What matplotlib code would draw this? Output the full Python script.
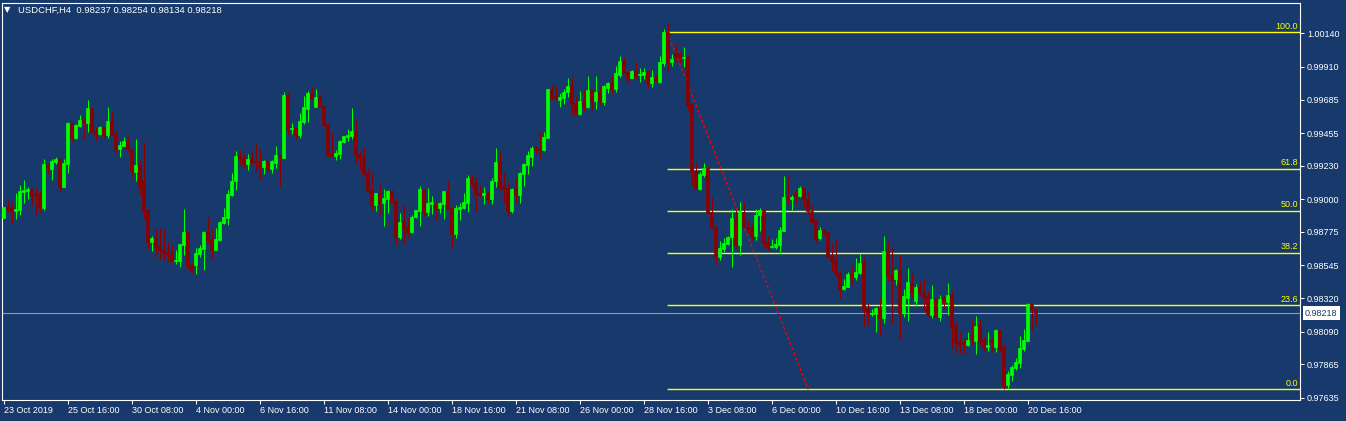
import numpy as np
import matplotlib.pyplot as plt
from matplotlib.transforms import ScaledTranslation, blended_transform_factory

plt.rcParams['font.family'] = ['Liberation Sans', 'DejaVu Sans']

# USDCHF H4 candles, oldest first
opens = [
    0.98873, 0.98948, 0.98942, 0.98919, 0.98926, 0.99052, 0.99056, 0.99070, 0.99036, 0.99038,
    0.98937, 0.99237, 0.99207, 0.99255, 0.99276, 0.99084, 0.99242, 0.99523, 0.99420, 0.99503,
    0.99544, 0.99523, 0.99626, 0.99468, 0.99448, 0.99496, 0.99441, 0.99537, 0.99448, 0.99345,
    0.99365, 0.99400, 0.99345, 0.99187, 0.99235, 0.99132, 0.98926, 0.98706, 0.98733, 0.98678,
    0.98651, 0.98637, 0.98630, 0.98575, 0.98575, 0.98685, 0.98774, 0.98548, 0.98548, 0.98623,
    0.98658, 0.98774, 0.98726, 0.98651, 0.98720, 0.98837, 0.98871, 0.99029, 0.99125, 0.99297,
    0.99283, 0.99242, 0.99276, 0.99263, 0.99256, 0.99221, 0.99263, 0.99208, 0.99249, 0.99304,
    0.99283, 0.99716, 0.99482, 0.99489, 0.99441, 0.99530, 0.99620, 0.99730, 0.99634, 0.99702,
    0.99640, 0.99517, 0.99311, 0.99297, 0.99311, 0.99393, 0.99427, 0.99434, 0.99469, 0.99311,
    0.99290, 0.99180, 0.99063, 0.98960, 0.99043, 0.98974, 0.99001, 0.99056, 0.98988, 0.98740,
    0.98843, 0.98809, 0.98775, 0.98878, 0.98919, 0.99070, 0.98912, 0.98967, 0.98960, 0.98940,
    0.98967, 0.99056, 0.98940, 0.98761, 0.98933, 0.98940, 0.98974, 0.99146, 0.99111, 0.99043,
    0.99029, 0.99043, 0.99001, 0.99125, 0.99256, 0.99091, 0.99077, 0.98919, 0.99070, 0.99029,
    0.99173, 0.99235, 0.99290, 0.99352, 0.99345, 0.99338, 0.99420, 0.99750, 0.99709, 0.99681,
    0.99695, 0.99736, 0.99778, 0.99661, 0.99585, 0.99675, 0.99633, 0.99750, 0.99675, 0.99736,
    0.99668, 0.99764, 0.99798, 0.99757, 0.99853, 0.99949, 0.99874, 0.99833, 0.99881, 0.99853,
    0.99853, 0.99881, 0.99798, 0.99839, 0.99805, 0.99936, 1.00149, 0.99942, 1.00004, 0.99997,
    0.99970, 0.99977, 0.99654, 0.99194, 0.99070, 0.99166, 0.99214, 0.98912, 0.98809, 0.98603,
    0.98658, 0.98692, 0.98740, 0.98864, 0.98685, 0.98912, 0.98809, 0.98802, 0.98747, 0.98891,
    0.98926, 0.98706, 0.98672, 0.98672, 0.98685, 0.98781, 0.99015, 0.99001, 0.99042, 0.99022,
    0.99077, 0.99001, 0.98919, 0.98857, 0.98733, 0.98788, 0.98775, 0.98610, 0.98582, 0.98493,
    0.98383, 0.98397, 0.98486, 0.98466, 0.98493, 0.98569, 0.98253, 0.98212, 0.98212, 0.98253,
    0.98184, 0.98644, 0.98479, 0.98452, 0.98514, 0.98218, 0.98321, 0.98425, 0.98301, 0.98397,
    0.98356, 0.98335, 0.98205, 0.98315, 0.98191, 0.98321, 0.98294, 0.98342, 0.98129, 0.98019,
    0.98019, 0.97999, 0.98067, 0.98026, 0.98129, 0.98040, 0.97985, 0.98033, 0.97985, 0.98102,
    0.97985, 0.97724, 0.97792, 0.97841, 0.97875, 0.97971, 0.98026, 0.98280, 0.98237,
]
highs = [
    0.98944, 0.98994, 0.98978, 0.99040, 0.99097, 0.99132, 0.99084, 0.99070, 0.99084, 0.99056,
    0.99276, 0.99242, 0.99276, 0.99290, 0.99285, 0.99276, 0.99530, 0.99523, 0.99516, 0.99578,
    0.99558, 0.99681, 0.99626, 0.99496, 0.99503, 0.99496, 0.99635, 0.99599, 0.99475, 0.99400,
    0.99427, 0.99434, 0.99345, 0.99413, 0.99269, 0.99393, 0.98926, 0.98747, 0.98795, 0.98802,
    0.98795, 0.98706, 0.98685, 0.98651, 0.98692, 0.98932, 0.98774, 0.98568, 0.98665, 0.98685,
    0.98781, 0.98878, 0.98795, 0.98802, 0.98850, 0.98940, 0.99063, 0.99180, 0.99331, 0.99338,
    0.99317, 0.99311, 0.99324, 0.99386, 0.99345, 0.99269, 0.99263, 0.99269, 0.99366, 0.99304,
    0.99737, 0.99730, 0.99524, 0.99496, 0.99592, 0.99709, 0.99743, 0.99771, 0.99757, 0.99723,
    0.99647, 0.99517, 0.99462, 0.99338, 0.99407, 0.99434, 0.99482, 0.99627, 0.99551, 0.99331,
    0.99359, 0.99214, 0.99180, 0.99043, 0.99105, 0.99070, 0.99063, 0.99063, 0.99008, 0.98905,
    0.98960, 0.98878, 0.98892, 0.98926, 0.99091, 0.99070, 0.99077, 0.99022, 0.98988, 0.98981,
    0.99056, 0.99125, 0.98953, 0.98960, 0.98974, 0.99043, 0.99166, 0.99173, 0.99153, 0.99098,
    0.99084, 0.99056, 0.99146, 0.99352, 0.99331, 0.99187, 0.99118, 0.99077, 0.99146, 0.99187,
    0.99249, 0.99331, 0.99365, 0.99365, 0.99469, 0.99462, 0.99757, 0.99785, 0.99778, 0.99730,
    0.99757, 0.99833, 0.99840, 0.99709, 0.99743, 0.99757, 0.99846, 0.99757, 0.99846, 0.99778,
    0.99785, 0.99805, 0.99853, 0.99915, 0.99984, 0.99977, 0.99874, 0.99888, 0.99942, 0.99901,
    0.99901, 0.99887, 0.99887, 0.99860, 0.99984, 1.00169, 1.00210, 0.99997, 1.00066, 1.00018,
    1.00046, 0.99990, 0.99654, 0.99255, 0.99187, 0.99249, 0.99228, 0.99015, 0.98823, 0.98713,
    0.98733, 0.98747, 0.98933, 0.98926, 0.98981, 0.98981, 0.98864, 0.98830, 0.98933, 0.98939,
    0.98933, 0.98747, 0.98726, 0.98733, 0.98809, 0.99159, 0.99159, 0.99029, 0.99063, 0.99091,
    0.99077, 0.99049, 0.98960, 0.98864, 0.98809, 0.98795, 0.98775, 0.98692, 0.98726, 0.98513,
    0.98452, 0.98500, 0.98548, 0.98596, 0.98624, 0.98603, 0.98287, 0.98246, 0.98260, 0.98321,
    0.98747, 0.98713, 0.98672, 0.98521, 0.98617, 0.98383, 0.98528, 0.98493, 0.98418, 0.98438,
    0.98452, 0.98370, 0.98411, 0.98321, 0.98342, 0.98335, 0.98425, 0.98376, 0.98163, 0.98088,
    0.98040, 0.98088, 0.98170, 0.98198, 0.98177, 0.98060, 0.98088, 0.98047, 0.98109, 0.98102,
    0.98005, 0.97820, 0.97861, 0.97909, 0.98060, 0.98109, 0.98287, 0.98280, 0.98254,
]
lows = [
    0.98873, 0.98914, 0.98839, 0.98864, 0.98891, 0.98976, 0.99001, 0.98960, 0.98891, 0.98907,
    0.98926, 0.99175, 0.99132, 0.99242, 0.99056, 0.99084, 0.99180, 0.99393, 0.99413, 0.99496,
    0.99413, 0.99461, 0.99461, 0.99400, 0.99441, 0.99420, 0.99420, 0.99441, 0.99310, 0.99290,
    0.99365, 0.99324, 0.99152, 0.99125, 0.99029, 0.98864, 0.98658, 0.98644, 0.98603, 0.98589,
    0.98575, 0.98575, 0.98568, 0.98555, 0.98534, 0.98616, 0.98520, 0.98493, 0.98486, 0.98603,
    0.98513, 0.98699, 0.98589, 0.98651, 0.98713, 0.98830, 0.98823, 0.99022, 0.99063, 0.99235,
    0.99214, 0.99201, 0.99235, 0.99194, 0.99132, 0.99173, 0.99194, 0.99180, 0.99214, 0.99091,
    0.99283, 0.99441, 0.99448, 0.99414, 0.99421, 0.99517, 0.99530, 0.99688, 0.99634, 0.99634,
    0.99503, 0.99290, 0.99297, 0.99269, 0.99276, 0.99386, 0.99400, 0.99414, 0.99249, 0.99201,
    0.99159, 0.99050, 0.98926, 0.98919, 0.98892, 0.98816, 0.98905, 0.98981, 0.98685, 0.98727,
    0.98692, 0.98734, 0.98768, 0.98871, 0.98816, 0.98885, 0.98885, 0.98898, 0.98857, 0.98905,
    0.98864, 0.98933, 0.98665, 0.98733, 0.98857, 0.98933, 0.98912, 0.99077, 0.98912, 0.99015,
    0.98967, 0.98974, 0.98967, 0.99084, 0.99063, 0.98974, 0.98885, 0.98905, 0.98974, 0.98974,
    0.99091, 0.99173, 0.99228, 0.99311, 0.99283, 0.99331, 0.99420, 0.99681, 0.99681, 0.99633,
    0.99654, 0.99702, 0.99578, 0.99585, 0.99578, 0.99606, 0.99627, 0.99613, 0.99620, 0.99647,
    0.99647, 0.99730, 0.99723, 0.99736, 0.99840, 0.99867, 0.99798, 0.99833, 0.99826, 0.99805,
    0.99826, 0.99764, 0.99771, 0.99805, 0.99798, 0.99915, 0.99881, 0.99915, 0.99942, 0.99936,
    0.99908, 0.99606, 0.99097, 0.99070, 0.99063, 0.99152, 0.98898, 0.98795, 0.98555, 0.98582,
    0.98637, 0.98685, 0.98534, 0.98665, 0.98617, 0.98809, 0.98768, 0.98720, 0.98720, 0.98781,
    0.98665, 0.98651, 0.98665, 0.98658, 0.98623, 0.98781, 0.98960, 0.98926, 0.98967, 0.99015,
    0.98946, 0.98898, 0.98843, 0.98706, 0.98720, 0.98747, 0.98603, 0.98507, 0.98465, 0.98321,
    0.98376, 0.98397, 0.98411, 0.98445, 0.98486, 0.98122, 0.98136, 0.98198, 0.98088, 0.98067,
    0.98150, 0.98438, 0.98143, 0.98411, 0.98040, 0.98191, 0.98163, 0.98321, 0.98267, 0.98342,
    0.98232, 0.98191, 0.98184, 0.98191, 0.98163, 0.98246, 0.98205, 0.97978, 0.97944, 0.97944,
    0.97937, 0.97992, 0.97999, 0.97937, 0.97999, 0.97957, 0.97957, 0.97951, 0.97951, 0.97951,
    0.97696, 0.97696, 0.97751, 0.97827, 0.97841, 0.97957, 0.98026, 0.98102, 0.98134,
]
closes = [
    0.98944, 0.98932, 0.98914, 0.98932, 0.99056, 0.99065, 0.99070, 0.99029, 0.99024, 0.98942,
    0.99242, 0.99216, 0.99262, 0.99276, 0.99084, 0.99248, 0.99523, 0.99427, 0.99510, 0.99544,
    0.99523, 0.99626, 0.99461, 0.99448, 0.99496, 0.99441, 0.99537, 0.99441, 0.99345, 0.99372,
    0.99400, 0.99345, 0.99194, 0.99235, 0.99090, 0.98919, 0.98706, 0.98733, 0.98671, 0.98651,
    0.98630, 0.98623, 0.98575, 0.98582, 0.98692, 0.98774, 0.98541, 0.98507, 0.98630, 0.98665,
    0.98774, 0.98719, 0.98651, 0.98727, 0.98843, 0.98878, 0.99036, 0.99125, 0.99297, 0.99276,
    0.99242, 0.99276, 0.99256, 0.99256, 0.99221, 0.99263, 0.99208, 0.99263, 0.99304, 0.99290,
    0.99716, 0.99482, 0.99489, 0.99441, 0.99537, 0.99634, 0.99730, 0.99688, 0.99702, 0.99634,
    0.99510, 0.99304, 0.99297, 0.99317, 0.99400, 0.99434, 0.99441, 0.99469, 0.99304, 0.99283,
    0.99173, 0.99056, 0.98960, 0.99043, 0.98974, 0.99008, 0.99056, 0.98981, 0.98740, 0.98843,
    0.98802, 0.98775, 0.98878, 0.98926, 0.99070, 0.98919, 0.98974, 0.98981, 0.98940, 0.98974,
    0.99056, 0.98933, 0.98761, 0.98940, 0.98946, 0.98981, 0.99146, 0.99104, 0.99036, 0.99029,
    0.99043, 0.99001, 0.99125, 0.99256, 0.99084, 0.99070, 0.98919, 0.99070, 0.99029, 0.99180,
    0.99242, 0.99304, 0.99352, 0.99338, 0.99338, 0.99427, 0.99757, 0.99695, 0.99688, 0.99702,
    0.99736, 0.99778, 0.99654, 0.99585, 0.99675, 0.99633, 0.99750, 0.99675, 0.99736, 0.99675,
    0.99778, 0.99798, 0.99757, 0.99867, 0.99949, 0.99867, 0.99833, 0.99881, 0.99846, 0.99860,
    0.99874, 0.99798, 0.99839, 0.99812, 0.99942, 1.00149, 0.99942, 0.99963, 0.99984, 0.99970,
    0.99977, 0.99647, 0.99187, 0.99070, 0.99173, 0.99214, 0.98905, 0.98809, 0.98603, 0.98665,
    0.98699, 0.98740, 0.98871, 0.98685, 0.98919, 0.98816, 0.98795, 0.98747, 0.98891, 0.98926,
    0.98699, 0.98672, 0.98678, 0.98692, 0.98788, 0.99015, 0.99001, 0.99015, 0.99022, 0.99077,
    0.99001, 0.98919, 0.98843, 0.98726, 0.98788, 0.98768, 0.98603, 0.98575, 0.98493, 0.98383,
    0.98404, 0.98486, 0.98466, 0.98500, 0.98562, 0.98246, 0.98212, 0.98218, 0.98253, 0.98184,
    0.98644, 0.98479, 0.98445, 0.98514, 0.98218, 0.98335, 0.98431, 0.98363, 0.98397, 0.98356,
    0.98328, 0.98205, 0.98315, 0.98191, 0.98315, 0.98294, 0.98342, 0.98122, 0.98012, 0.97999,
    0.98005, 0.98033, 0.98060, 0.98129, 0.98026, 0.97985, 0.97999, 0.98019, 0.98102, 0.97971,
    0.97717, 0.97799, 0.97847, 0.97882, 0.97978, 0.98033, 0.98280, 0.98246, 0.98218,
]

# time axis labels, one every 16 bars
date_labels = ['23 Oct 2019', '25 Oct 16:00', '30 Oct 08:00', '4 Nov 00:00', '6 Nov 16:00',
               '11 Nov 08:00', '14 Nov 00:00', '18 Nov 16:00', '21 Nov 08:00', '26 Nov 00:00',
               '28 Nov 16:00', '3 Dec 08:00', '6 Dec 00:00', '10 Dec 16:00', '13 Dec 08:00',
               '18 Dec 00:00', '20 Dec 16:00']
label_every = 16

price_ticks = [1.00140, 0.99910, 0.99685, 0.99455, 0.99230, 0.99000,
               0.98775, 0.98545, 0.98320, 0.98090, 0.97865, 0.97635]
last_price = 0.98218
title = 'USDCHF,H4  0.98237 0.98254 0.98134 0.98218'

# fibonacci retracement drawn from the top at bar 166
fib_names = ['0.0', '23.6', '38.2', '50.0', '61.8', '100.0']
fib_prices = [0.97694, 0.98273, 0.98631, 0.98921, 0.99210, 1.00147]
fib_bar = 165.9
trend_bars = [165.9, 201.2]
trend_prices = [1.00147, 0.97694]

bg = '#17396c'
bull = '#00ff00'
bear = '#8b0000'

fig = plt.figure(figsize=(13.46, 4.21), dpi=100, facecolor=bg)
ax = fig.add_axes([2 / 1346, 21 / 421, 1298 / 1346, 397 / 421], facecolor=bg)

o = np.array(opens)
h = np.array(highs)
l = np.array(lows)
c = np.array(closes)
x = np.arange(len(o))
cols = np.where(c >= o, bull, bear)

# candles: wick + body
ax.vlines(x, l, h, colors=cols, linewidth=0.75, zorder=3)
ax.bar(x, np.abs(c - o), bottom=np.minimum(o, c), width=0.55, color=cols,
       edgecolor=cols, linewidth=0.5, zorder=4)

ax.set_xlim(-0.375, 324.125)
ax.set_ylim(0.97621, 1.00348)

# fib levels and the trend line
right_edge = ax.get_xlim()[1]
for p in fib_prices:
    ax.plot([fib_bar, right_edge], [p, p], color='#ffff00', linewidth=1.0,
            solid_capstyle='butt', snap=True, zorder=2)
ax.plot(trend_bars, trend_prices, color='#ff0000', linewidth=1.0,
        linestyle=(0, (2, 2)), zorder=2)
ytrans = blended_transform_factory(ax.transAxes, ax.transData)
for name, p in zip(fib_names, fib_prices):
    ax.text(1.0, p, name, transform=ytrans + ScaledTranslation(-2 / 100, 1.5 / 100, fig.dpi_scale_trans),
            ha='right', va='bottom', color='#ffff00', fontsize=6.5)

# current price line
ax.axhline(last_price, color='#8e9bb3', linewidth=0.8, snap=True, zorder=1)

# axes styling
for s in ax.spines.values():
    s.set_color('white')
    s.set_linewidth(0.8)

ax.set_xticks(np.arange(len(date_labels)) * label_every)
ax.set_xticklabels(date_labels)
ax.tick_params(axis='x', colors='white', direction='out', length=3, width=0.75,
               labelsize=6.5, pad=1.5)
for lab in ax.get_xticklabels():
    lab.set_horizontalalignment('left')
    lab.set_transform(lab.get_transform() + ScaledTranslation(0.5 / 100, 0, fig.dpi_scale_trans))

ax.yaxis.tick_right()
ax.set_yticks(price_ticks)
ax.set_yticklabels([f'{p:.5f}' for p in price_ticks])
ax.tick_params(axis='y', colors='white', direction='out', length=3, width=0.75,
               labelsize=6.5, pad=2)

# price box on the right scale
ax.text(1.0, last_price, f'{last_price:.5f}',
        transform=ytrans + ScaledTranslation(5 / 100, 0, fig.dpi_scale_trans),
        ha='left', va='center', fontsize=6.5, color=bg, clip_on=False,
        bbox=dict(boxstyle='square,pad=0.25', fc='white', ec='none'))

# header
fig.text(4 / 1346, 1 - 10 / 421, '\u25bc', color='white', fontsize=6,
         family='DejaVu Sans', va='center', ha='left')
fig.text(18 / 1346, 1 - 10.5 / 421, title, color='white', fontsize=6.8,
         va='center', ha='left')

fig.savefig('out.png', dpi=100, facecolor=bg)
